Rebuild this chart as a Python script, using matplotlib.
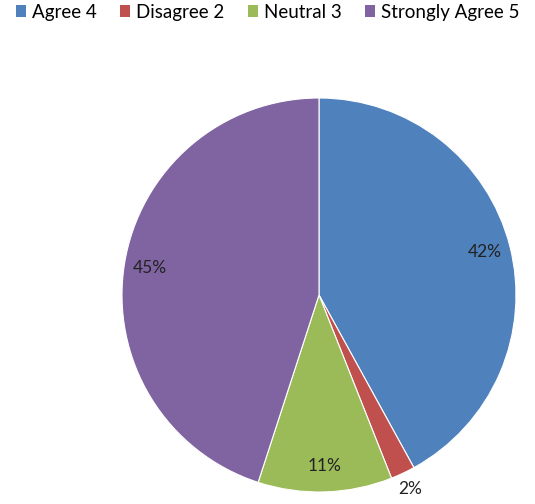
import matplotlib.pyplot as plt
from matplotlib.patches import Patch

plt.rcParams['font.family'] = ['Lato', 'DejaVu Sans']

labels = ['Agree 4', 'Disagree 2', 'Neutral 3', 'Strongly Agree 5']
shares = [42, 2, 11, 45]
colors = ['#4F81BD', '#C0504D', '#9BBB59', '#8064A2']

fig = plt.figure(figsize=(5.35, 5.04), dpi=100)
ax = fig.add_axes([122 / 535, 12 / 504, 394 / 535, 394 / 504])

wedges, texts, autotexts = ax.pie(
    shares, colors=colors, startangle=90, counterclock=False,
    autopct='%d%%', pctdistance=0.87,
    wedgeprops=dict(edgecolor='white', linewidth=0.8),
    textprops=dict(fontsize=12.5, color='#222222'))

# the thin slice gets its label pushed outside the rim
autotexts[1].set_position((0.426 * 1.09, -0.905 * 1.09))

ax.set_xlim(-1, 1)
ax.set_ylim(-1, 1)
ax.set_aspect('equal')
ax.axis('off')

handles = [Patch(facecolor=c, edgecolor='none') for c in colors]
fig.legend(handles, labels, loc='upper center', bbox_to_anchor=(0.5, 1.015),
           ncol=4, frameon=False, fontsize=13.5, handlelength=0.55,
           handleheight=0.55, handletextpad=0.3, columnspacing=1.25,
           borderaxespad=0.2)

fig.savefig('out.png', dpi=100)
